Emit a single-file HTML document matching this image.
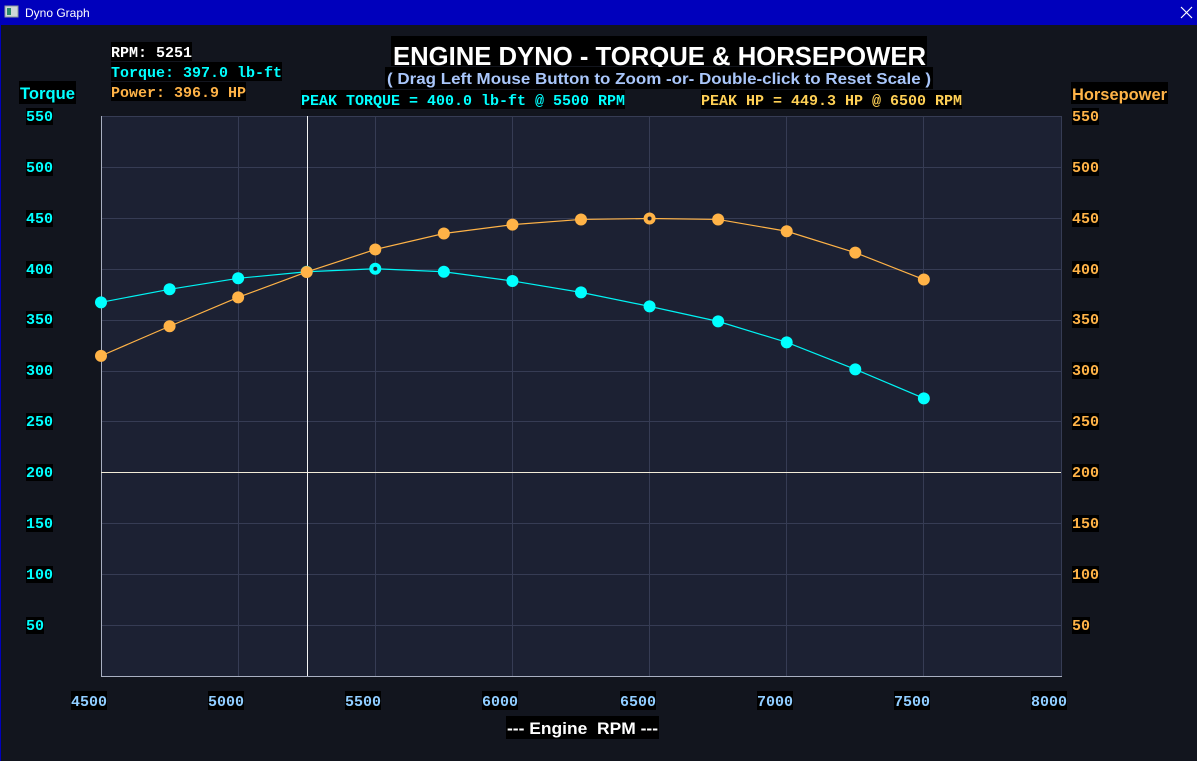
<!DOCTYPE html>
<html><head><meta charset="utf-8"><style>
html,body{margin:0;padding:0;background:#12151e;}
svg{display:block;}
.m{font-family:"Liberation Mono",monospace;font-weight:bold;font-size:15px;}
.s{font-family:"Liberation Sans",sans-serif;font-weight:bold;}
</style></head><body>
<svg width="1197" height="761" viewBox="0 0 1197 761" xmlns="http://www.w3.org/2000/svg">
<rect x="0" y="0" width="1197" height="761" fill="#12151e"/>
<!-- title bar -->
<rect x="0" y="0" width="1197" height="25" fill="#0000bc"/>
<rect x="0" y="0" width="1" height="761" fill="#0000bc"/>
<rect x="5" y="6" width="13" height="11" fill="#cfd8d8" stroke="#8a9a9a" stroke-width="1"/>
<rect x="7" y="8" width="4" height="7" fill="#2a8a6a"/>
<text x="25" y="17" font-family="Liberation Sans, sans-serif" font-size="12" fill="#ffffff">Dyno Graph</text>
<path d="M1181 7 L1192 18 M1192 7 L1181 18" stroke="#ffffff" stroke-width="1.2"/>

<!-- plot area -->
<rect x="101" y="116" width="960" height="560" fill="#1c2133"/>
<g stroke="#363c54" stroke-width="1" shape-rendering="crispEdges">
<line x1="101" y1="116.5" x2="1061" y2="116.5"/>
<line x1="101" y1="167.5" x2="1061" y2="167.5"/>
<line x1="101" y1="218.5" x2="1061" y2="218.5"/>
<line x1="101" y1="269.5" x2="1061" y2="269.5"/>
<line x1="101" y1="320.5" x2="1061" y2="320.5"/>
<line x1="101" y1="371.5" x2="1061" y2="371.5"/>
<line x1="101" y1="421.5" x2="1061" y2="421.5"/>
<line x1="101" y1="523.5" x2="1061" y2="523.5"/>
<line x1="101" y1="574.5" x2="1061" y2="574.5"/>
<line x1="101" y1="625.5" x2="1061" y2="625.5"/>
<line x1="238.5" y1="116" x2="238.5" y2="676"/>
<line x1="375.5" y1="116" x2="375.5" y2="676"/>
<line x1="512.5" y1="116" x2="512.5" y2="676"/>
<line x1="649.5" y1="116" x2="649.5" y2="676"/>
<line x1="786.5" y1="116" x2="786.5" y2="676"/>
<line x1="923.5" y1="116" x2="923.5" y2="676"/>
<line x1="1061.5" y1="116" x2="1061.5" y2="676"/>
</g>
<g stroke="#a9b0c2" stroke-width="1" shape-rendering="crispEdges">
<line x1="101.5" y1="116" x2="101.5" y2="677"/>
<line x1="101" y1="676.5" x2="1062" y2="676.5"/>
</g>
<!-- cursor lines -->
<g stroke-width="1" shape-rendering="crispEdges">
<line x1="101" y1="472.5" x2="1061" y2="472.5" stroke="#f2ecd8"/>
<line x1="307.5" y1="116" x2="307.5" y2="676" stroke="#f4f4f4"/>
</g>

<!-- torque series -->
<polyline fill="none" stroke="#00f4f4" stroke-width="1.2" points="101,302.33 169.57,289.30 238.14,278.30 306.71,271.78 375.29,268.73 443.86,271.78 512.43,280.95 581,292.35 649.57,306.40 718.14,321.37 786.71,342.34 855.29,369.32 923.86,398.34"/>
<g fill="#00ffff">
<circle cx="101" cy="302.33" r="6"/>
<circle cx="169.57" cy="289.30" r="6"/>
<circle cx="238.14" cy="278.30" r="6"/>
<circle cx="306.71" cy="271.78" r="6"/>
<circle cx="443.86" cy="271.78" r="6"/>
<circle cx="512.43" cy="280.95" r="6"/>
<circle cx="581" cy="292.35" r="6"/>
<circle cx="649.57" cy="306.40" r="6"/>
<circle cx="718.14" cy="321.37" r="6"/>
<circle cx="786.71" cy="342.34" r="6"/>
<circle cx="855.29" cy="369.32" r="6"/>
<circle cx="923.86" cy="398.34" r="6"/>
</g>
<circle cx="375.29" cy="268.73" r="4" fill="#1c2133" stroke="#00ffff" stroke-width="4"/>

<!-- hp series -->
<polyline fill="none" stroke="#ffb347" stroke-width="1.2" points="101,355.88 169.57,326.25 238.14,297.34 306.71,271.98 375.29,249.48 443.86,233.50 512.43,224.64 581,219.45 649.57,218.53 718.14,219.45 786.71,231.26 855.29,252.64 923.86,279.52"/>
<g fill="#ffb347">
<circle cx="101" cy="355.88" r="6"/>
<circle cx="169.57" cy="326.25" r="6"/>
<circle cx="238.14" cy="297.34" r="6"/>
<circle cx="306.71" cy="271.98" r="6"/>
<circle cx="375.29" cy="249.48" r="6"/>
<circle cx="443.86" cy="233.50" r="6"/>
<circle cx="512.43" cy="224.64" r="6"/>
<circle cx="581" cy="219.45" r="6"/>
<circle cx="718.14" cy="219.45" r="6"/>
<circle cx="786.71" cy="231.26" r="6"/>
<circle cx="855.29" cy="252.64" r="6"/>
<circle cx="923.86" cy="279.52" r="6"/>
</g>
<circle cx="649.57" cy="218.53" r="4" fill="#1c2133" stroke="#ffb347" stroke-width="4"/>

<!-- title -->
<rect x="391" y="36" width="536" height="30" fill="#000"/>
<text class="s" x="393" y="65" font-size="26" fill="#ffffff" textLength="533" lengthAdjust="spacingAndGlyphs">ENGINE DYNO - TORQUE &amp; HORSEPOWER</text>
<rect x="385" y="67" width="548" height="22" fill="#000"/>
<text class="s" x="387" y="84" font-size="16" fill="#a9c6fa" textLength="544" lengthAdjust="spacingAndGlyphs">( Drag Left Mouse Button to Zoom -or- Double-click to Reset Scale )</text>

<!-- info box -->
<rect x="111" y="42" width="81" height="19" fill="#000"/>
<text class="m" x="111" y="57" fill="#ffffff" textLength="81" lengthAdjust="spacingAndGlyphs">RPM: 5251</text>
<rect x="111" y="62" width="171" height="19" fill="#000"/>
<text class="m" x="111" y="77" fill="#00ffff" textLength="171" lengthAdjust="spacingAndGlyphs">Torque: 397.0 lb-ft</text>
<rect x="111" y="82" width="135" height="19" fill="#000"/>
<text class="m" x="111" y="97" fill="#ffb347" textLength="135" lengthAdjust="spacingAndGlyphs">Power: 396.9 HP</text>

<!-- peak labels -->
<rect x="301" y="90" width="324" height="19" fill="#000"/>
<text class="m" x="301" y="105" fill="#00ffff" textLength="324" lengthAdjust="spacingAndGlyphs">PEAK TORQUE = 400.0 lb-ft @ 5500 RPM</text>
<rect x="701" y="90" width="261" height="19" fill="#000"/>
<text class="m" x="701" y="105" fill="#ffd055" textLength="261" lengthAdjust="spacingAndGlyphs">PEAK HP = 449.3 HP @ 6500 RPM</text>

<!-- axis titles -->
<rect x="19" y="81" width="57" height="23" fill="#000"/>
<text class="s" x="20" y="99" font-size="17" fill="#00ffff" textLength="55" lengthAdjust="spacingAndGlyphs">Torque</text>
<rect x="1071" y="82" width="97" height="22" fill="#000"/>
<text class="s" x="1072" y="100" font-size="17" fill="#ffb347" textLength="95" lengthAdjust="spacingAndGlyphs">Horsepower</text>
<rect x="506" y="716" width="153" height="23" fill="#000"/>
<text class="s" x="507" y="734" font-size="17" fill="#ffffff" textLength="151" lengthAdjust="spacingAndGlyphs" xml:space="preserve">--- Engine  RPM ---</text>

<!-- left ticks -->
<g fill="#000">
<rect x="26" y="108" width="27" height="17"/>
<rect x="26" y="159" width="27" height="17"/>
<rect x="26" y="210" width="27" height="17"/>
<rect x="26" y="261" width="27" height="17"/>
<rect x="26" y="311" width="27" height="17"/>
<rect x="26" y="362" width="27" height="17"/>
<rect x="26" y="413" width="27" height="17"/>
<rect x="26" y="464" width="27" height="17"/>
<rect x="26" y="515" width="27" height="17"/>
<rect x="26" y="566" width="27" height="17"/>
<rect x="26" y="617" width="18" height="17"/>
</g>
<g class="m" fill="#00ffff">
<text x="26" y="121">550</text>
<text x="26" y="172">500</text>
<text x="26" y="223">450</text>
<text x="26" y="274">400</text>
<text x="26" y="324">350</text>
<text x="26" y="375">300</text>
<text x="26" y="426">250</text>
<text x="26" y="477">200</text>
<text x="26" y="528">150</text>
<text x="26" y="579">100</text>
<text x="26" y="630">50</text>
</g>
<!-- right ticks -->
<g fill="#000">
<rect x="1072" y="108" width="27" height="17"/>
<rect x="1072" y="159" width="27" height="17"/>
<rect x="1072" y="210" width="27" height="17"/>
<rect x="1072" y="261" width="27" height="17"/>
<rect x="1072" y="311" width="27" height="17"/>
<rect x="1072" y="362" width="27" height="17"/>
<rect x="1072" y="413" width="27" height="17"/>
<rect x="1072" y="464" width="27" height="17"/>
<rect x="1072" y="515" width="27" height="17"/>
<rect x="1072" y="566" width="27" height="17"/>
<rect x="1072" y="617" width="18" height="17"/>
</g>
<g class="m" fill="#ffb347">
<text x="1072" y="121">550</text>
<text x="1072" y="172">500</text>
<text x="1072" y="223">450</text>
<text x="1072" y="274">400</text>
<text x="1072" y="324">350</text>
<text x="1072" y="375">300</text>
<text x="1072" y="426">250</text>
<text x="1072" y="477">200</text>
<text x="1072" y="528">150</text>
<text x="1072" y="579">100</text>
<text x="1072" y="630">50</text>
</g>
<!-- x ticks -->
<g fill="#000">
<rect x="71" y="691" width="36" height="19"/>
<rect x="208" y="691" width="36" height="19"/>
<rect x="345" y="691" width="36" height="19"/>
<rect x="482" y="691" width="36" height="19"/>
<rect x="620" y="691" width="36" height="19"/>
<rect x="757" y="691" width="36" height="19"/>
<rect x="894" y="691" width="36" height="19"/>
<rect x="1031" y="691" width="36" height="19"/>
</g>
<g class="m" fill="#90cdff">
<text x="71" y="706">4500</text>
<text x="208" y="706">5000</text>
<text x="345" y="706">5500</text>
<text x="482" y="706">6000</text>
<text x="620" y="706">6500</text>
<text x="757" y="706">7000</text>
<text x="894" y="706">7500</text>
<text x="1031" y="706">8000</text>
</g>
</svg>
</body></html>
